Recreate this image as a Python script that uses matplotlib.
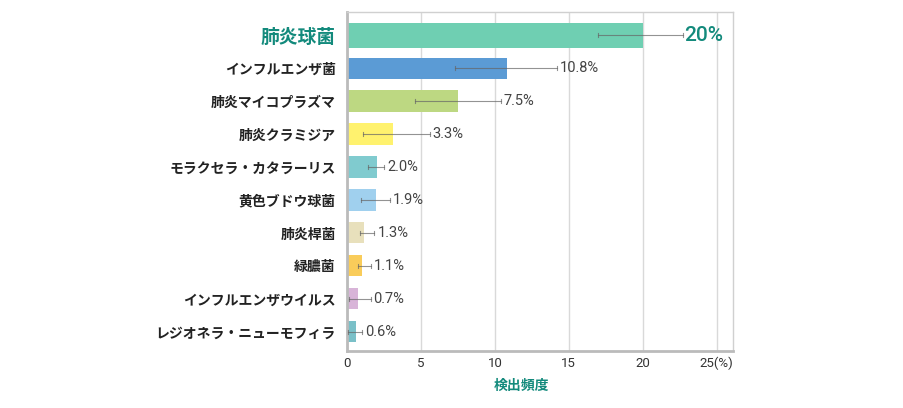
import numpy as np
import matplotlib
matplotlib.use('Agg')
import matplotlib.pyplot as plt

plt.rcParams['font.family'] = ['Noto Sans CJK JP', 'DejaVu Sans']

labels = ['肺炎球菌', 'インフルエンザ菌', '肺炎マイコプラズマ', '肺炎クラミジア',
          'モラクセラ・カタラーリス', '黄色ブドウ球菌', '肺炎桿菌', '緑膿菌',
          'インフルエンザウイルス', 'レジオネラ・ニューモフィラ']
values = [20.0, 10.8, 7.5, 3.3, 2.0, 1.9, 1.3, 1.1, 0.7, 0.6]
bar_len = [20.0, 10.8, 7.5, 3.1, 2.0, 1.93, 1.15, 1.0, 0.74, 0.6]
err_lo = [17.0, 7.3, 4.6, 1.1, 1.4, 0.95, 0.9, 0.76, 0.16, 0.05]
err_hi = [22.7, 14.2, 10.4, 5.6, 2.5, 2.9, 1.85, 1.6, 1.6, 1.0]
value_text = ['20%', '10.8%', '7.5%', '3.3%', '2.0%', '1.9%', '1.3%', '1.1%', '0.7%', '0.6%']
colors = ['#6fcfb2', '#5b9bd5', '#bdd882', '#fff26e', '#80cbcf',
          '#a0d0ee', '#e8e0bc', '#f9cc5a', '#d8b4d8', '#7ac0c8']
teal = '#138a7c'

fig = plt.figure(figsize=(9.04, 4.08), dpi=100)
ax = fig.add_axes([347/904, 57/408, 386/904, 339/408])

y = np.arange(len(labels))
heights = [0.76] + [0.64]*(len(labels)-1)
ax.barh(y, bar_len, height=heights, color=colors, zorder=2)

for i in range(len(labels)):
    ax.plot([err_lo[i], err_hi[i]], [i, i], color='#666666', lw=0.8, alpha=0.7, zorder=3)
    for xx in (err_lo[i], err_hi[i]):
        ax.plot([xx, xx], [i-0.07, i+0.07], color='#666666', lw=0.8, alpha=0.7, zorder=3)
    if i == 0:
        ax.text(err_hi[i] + 0.12, i, value_text[i], va='center', ha='left',
                fontsize=15, color=teal, fontweight='medium', family=['Roboto', 'DejaVu Sans'])
    else:
        ax.text(err_hi[i] + 0.2, i, value_text[i], va='center', ha='left',
                fontsize=10.5, color='#444444', family=['Roboto', 'DejaVu Sans'])

ax.set_xlim(0, 26.1)
ax.set_ylim(len(labels) - 1 + 0.58, -0.7)
ax.set_xticks([0, 5, 10, 15, 20, 25])
ax.set_xticklabels(['0', '5', '10', '15', '20', '25(%)'], fontsize=9.5, color='#333333',
                   family=['Roboto', 'DejaVu Sans'])
ax.set_yticks(y)
ax.set_yticklabels(labels, fontsize=10, fontweight='bold', color='#222222')
ytl = ax.get_yticklabels()
ytl[0].set_fontsize(13.5)
ytl[0].set_color(teal)
ax.tick_params(axis='both', length=0)
ax.tick_params(axis='y', pad=8)
ax.tick_params(axis='x', pad=4)

ax.grid(axis='x', color='#d9d9d9', lw=1, zorder=0)
for s in ('top', 'right'):
    ax.spines[s].set_color('#d0d0d0')
    ax.spines[s].set_linewidth(1)
for s in ('left', 'bottom'):
    ax.spines[s].set_color('#bbbbbb')
    ax.spines[s].set_linewidth(2)

fig.text(521/904, 22/408, '検出頻度', ha='center', va='center', fontsize=10,
         fontweight='bold', color=teal)

fig.savefig('out.png', dpi=100)
